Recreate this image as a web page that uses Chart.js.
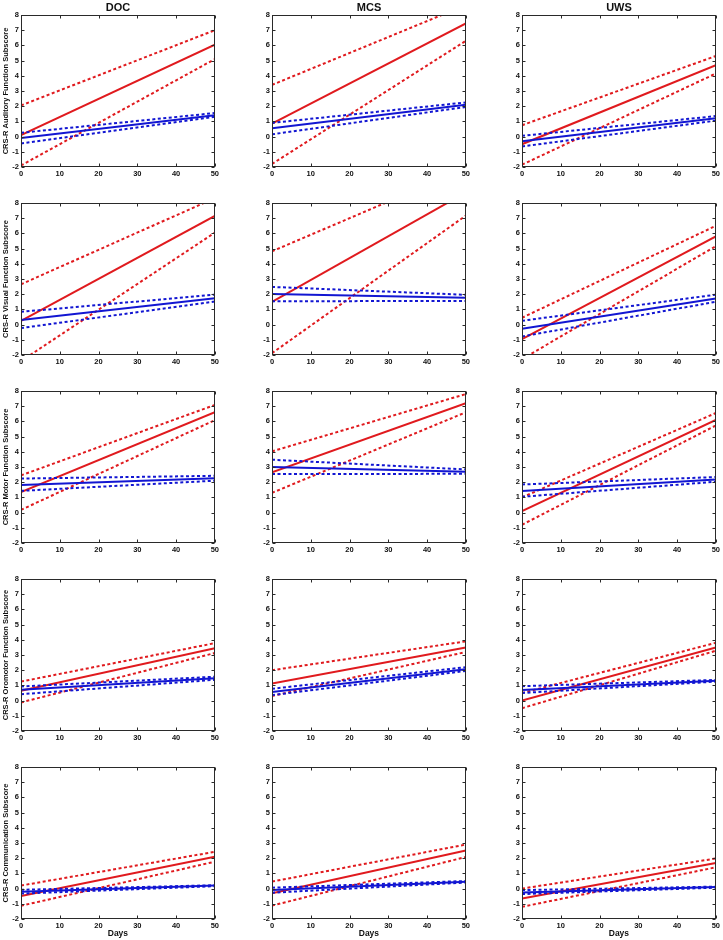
<!DOCTYPE html>
<html>
<head>
<meta charset="utf-8">
<script src="https://cdn.jsdelivr.net/npm/chart.js@4.4.1/dist/chart.umd.min.js"></script>
<style>
  html, body { margin: 0; padding: 0; background: #fff; }
  #wrap { position: relative; width: 723px; height: 940px; overflow: hidden; background: #fff; }
  canvas { position: absolute; }
  .hdr { position: absolute; font-family: "Liberation Sans", Arial, sans-serif; font-weight: bold;
         font-size: 11px; color: #111; transform: translate(-50%, -50%); white-space: nowrap; z-index: 2; }
</style>
</head>
<body>
<div id="wrap"></div>
<script>
// ---- data ----
const days = [0, 50];
const groups = ['DOC', 'MCS', 'UWS'];
const subscores = [
  'CRS-R Auditory Function Subscore',
  'CRS-R Visual Function Subscore',
  'CRS-R Motor Function Subscore',
  'CRS-R Oromotor Function Subscore',
  'CRS-R Communication Subscore'
];
const xTickValues = [0, 10, 20, 30, 40, 50];
const yTickValues = [-2, -1, 0, 1, 2, 3, 4, 5, 6, 7, 8];

// each entry: [value at day 0, value at day 50]; panels row by row (DOC, MCS, UWS)
const redMean = [
  [0.1, 6.05], [0.85, 7.45], [-0.5, 4.7],
  [0.25, 7.15], [1.5, 8.69], [-0.95, 5.8],
  [1.35, 6.6], [2.65, 7.2], [0.1, 6.1],
  [0.65, 3.45], [1.12, 3.5], [0.0, 3.5],
  [-0.48, 2.1], [-0.3, 2.5], [-0.65, 1.68]
];
const redUpper = [
  [2.05, 7.0], [3.4, 8.65], [0.75, 5.3],
  [2.65, 8.32], [4.82, 10.27], [0.45, 6.5],
  [2.45, 7.08], [4.03, 7.8], [1.0, 6.55],
  [1.25, 3.78], [2.0, 3.9], [0.5, 3.8],
  [0.2, 2.42], [0.46, 2.9], [0.0, 1.98]
];
const redLower = [
  [-1.9, 5.1], [-1.8, 6.3], [-1.85, 4.15],
  [-2.4, 6.05], [-1.88, 7.17], [-2.27, 5.16],
  [0.18, 6.08], [1.3, 6.6], [-0.8, 5.73],
  [-0.12, 3.13], [0.3, 3.2], [-0.5, 3.28],
  [-1.13, 1.77], [-1.12, 2.08], [-1.2, 1.4]
];
const blueMean = [
  [-0.1, 1.4], [0.55, 2.1], [-0.3, 1.2],
  [0.3, 1.73], [2.02, 1.76], [-0.27, 1.71],
  [1.82, 2.26], [3.0, 2.68], [1.42, 2.18],
  [0.72, 1.47], [0.57, 2.06], [0.7, 1.3],
  [-0.2, 0.2], [-0.1, 0.45], [-0.25, 0.1]
];
const blueUpper = [
  [0.25, 1.55], [0.9, 2.25], [0.05, 1.35],
  [0.84, 1.97], [2.48, 1.96], [0.25, 1.97],
  [2.24, 2.42], [3.48, 2.84], [1.85, 2.34],
  [0.93, 1.57], [0.78, 2.2], [0.95, 1.36],
  [-0.08, 0.22], [0.06, 0.5], [-0.1, 0.13]
];
const blueLower = [
  [-0.45, 1.3], [0.15, 1.95], [-0.65, 1.05],
  [-0.23, 1.52], [1.54, 1.55], [-0.78, 1.5],
  [1.43, 2.1], [2.54, 2.55], [1.04, 2.03],
  [0.42, 1.37], [0.36, 1.95], [0.5, 1.25],
  [-0.33, 0.16], [-0.27, 0.4], [-0.36, 0.06]
];

// ---- layout ----
const RED = 'rgb(224,26,30)';
const BLUE = 'rgb(18,22,210)';
const FONT = '"Liberation Sans", Arial, Helvetica, sans-serif';
const colPlotLeft = [21, 272, 522];
const rowPlotTop = [15, 203, 391, 579, 767];
const plotW = 194, plotH = 152, yAxisW = 21, padTop = 10, padRight = 6;

const wrap = document.getElementById('wrap');

groups.forEach((g, c) => {
  const d = document.createElement('div');
  d.className = 'hdr';
  d.textContent = g;
  d.style.left = (colPlotLeft[c] + plotW / 2) + 'px';
  d.style.top = '7px';
  wrap.appendChild(d);
});

const framePlugin = {
  id: 'frame',
  afterDatasetsDraw(chart) {
    const { ctx, chartArea: a, scales: { x, y } } = chart;
    ctx.save();
    ctx.strokeStyle = '#2a2a2a';
    ctx.lineWidth = 1;
    const L = Math.round(a.left) + 0.5, R = Math.round(a.right) - 0.5;
    const T = Math.round(a.top) + 0.5, B = Math.round(a.bottom) - 0.5;
    ctx.strokeRect(L, T, R - L, B - T);
    ctx.beginPath();
    x.ticks.forEach(t => {
      const px = Math.round(x.getPixelForValue(t.value)) + 0.5;
      ctx.moveTo(px, B); ctx.lineTo(px, B - 3);
      ctx.moveTo(px, T); ctx.lineTo(px, T + 3);
    });
    y.ticks.forEach(t => {
      const py = Math.round(y.getPixelForValue(t.value)) + 0.5;
      ctx.moveTo(L, py); ctx.lineTo(L + 3, py);
      ctx.moveTo(R, py); ctx.lineTo(R - 3, py);
    });
    ctx.stroke();
    ctx.restore();
  }
};

function series(arr, i, color, dotted) {
  return {
    data: days.map((d, k) => ({ x: d, y: arr[i][k] })),
    borderColor: color,
    backgroundColor: color,
    borderWidth: 2,
    borderDash: dotted ? [3, 2.5] : [],
    borderCapStyle: 'butt',
    pointRadius: 0,
    pointHoverRadius: 0,
    tension: 0,
    fill: false,
    clip: 0
  };
}

for (let i = 0; i < 15; i++) {
  const r = Math.floor(i / 3), c = i % 3;
  const lastRow = r === 4;
  const xAxisH = lastRow ? 21 : 14;
  const cw = yAxisW + plotW + padRight;
  const ch = padTop + plotH + xAxisH;
  const cv = document.createElement('canvas');
  cv.width = cw; cv.height = ch;
  cv.style.width = cw + 'px'; cv.style.height = ch + 'px';
  cv.style.left = (colPlotLeft[c] - yAxisW) + 'px';
  cv.style.top = (rowPlotTop[r] - padTop) + 'px';
  wrap.appendChild(cv);

  const tickFont = { family: FONT, size: 7.5, weight: 'bold' };

  new Chart(cv.getContext('2d'), {
    type: 'line',
    data: {
      datasets: [
        series(blueMean, i, BLUE, false),
        series(blueUpper, i, BLUE, true),
        series(blueLower, i, BLUE, true),
        series(redMean, i, RED, false),
        series(redUpper, i, RED, true),
        series(redLower, i, RED, true)
      ]
    },
    options: {
      responsive: false,
      maintainAspectRatio: false,
      animation: false,
      devicePixelRatio: 1,
      events: [],
      layout: { padding: { top: padTop, right: padRight, left: 0, bottom: 0 } },
      plugins: { legend: { display: false }, tooltip: { enabled: false }, title: { display: false } },
      scales: {
        x: {
          type: 'linear', min: 0, max: 50,
          afterBuildTicks: s => { s.ticks = xTickValues.map(v => ({ value: v })); },
          afterFit: s => { s.height = xAxisH; },
          grid: { display: false, drawTicks: false },
          border: { display: false },
          ticks: { font: tickFont, color: '#111', padding: 2, maxRotation: 0, autoSkip: false },
          title: {
            display: lastRow, text: 'Days', color: '#111',
            font: { family: FONT, size: 8.5, weight: 'bold' },
            padding: { top: 0, bottom: 1 }
          }
        },
        y: {
          type: 'linear', min: -2, max: 8,
          afterBuildTicks: s => { s.ticks = yTickValues.map(v => ({ value: v })); },
          afterFit: s => { s.width = yAxisW; },
          grid: { display: false, drawTicks: false },
          border: { display: false },
          ticks: { font: tickFont, color: '#111', padding: 2, autoSkip: false },
          title: {
            display: c === 0, text: subscores[r], color: '#111',
            font: { family: FONT, size: 7.5, weight: 'bold' },
            padding: { top: 1.5, bottom: 0 }
          }
        }
      }
    },
    plugins: [framePlugin]
  });
}
</script>
</body>
</html>
